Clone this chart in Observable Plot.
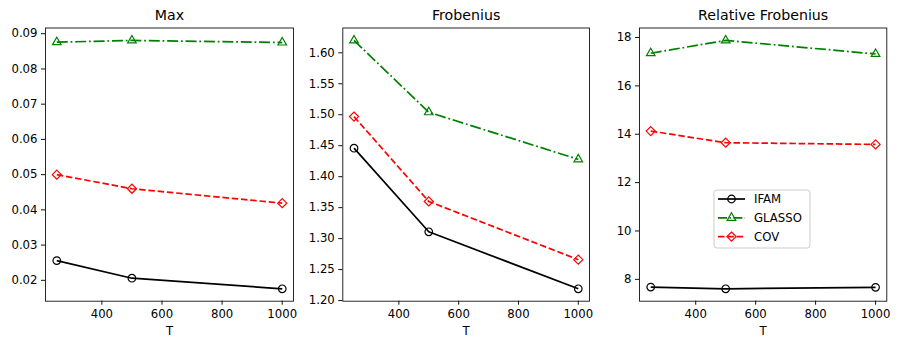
<!DOCTYPE html>
<html>
<head>
<meta charset="utf-8">
<script src="https://cdn.jsdelivr.net/npm/d3@7"></script>
<script src="https://cdn.jsdelivr.net/npm/@observablehq/plot@0.6"></script>
<style>
  body { margin: 0; background: white; font-family: "DejaVu Sans", sans-serif; }
  #wrap { position: relative; width: 900px; height: 348px; overflow: hidden; background: white; }
  #wrap > svg, #wrap > figure { position: absolute; top: 0; margin: 0; }
  #legend { position: absolute; }
</style>
</head>
<body>
<div id="wrap"></div>
<script>
// ---- data ----
const T = [250, 500, 1000];
const methods = ["IFAM", "GLASSO", "COV"];
const titles = ["Max", "Frobenius", "Relative Frobenius"];

const maxIFAM   = [0.0256, 0.0206, 0.0176];
const maxGLASSO = [0.0876, 0.0881, 0.0875];
const maxCOV    = [0.0500, 0.0460, 0.0419];

const frobIFAM   = [1.446, 1.311, 1.219];
const frobGLASSO = [1.620, 1.504, 1.428];
const frobCOV    = [1.497, 1.360, 1.266];

const relIFAM   = [7.68, 7.61, 7.67];
const relGLASSO = [17.35, 17.88, 17.32];
const relCOV    = [14.13, 13.65, 13.58];

const xTicks = [400, 600, 800, 1000];
const yTicksMax = [0.02, 0.03, 0.04, 0.05, 0.06, 0.07, 0.08, 0.09];
const yTicksFrob = [1.20, 1.25, 1.30, 1.35, 1.40, 1.45, 1.50, 1.55, 1.60];
const yTicksRel = [8, 10, 12, 14, 16, 18];

// ---- styles ----
const styles = {
  IFAM:   {color: "#000000", dash: null,             symbol: "circle",   r: 3.8},
  GLASSO: {color: "#008000", dash: "11,2.8,1.8,2.8", symbol: "triangle", r: 3.2},
  COV:    {color: "#ff0000", dash: "6.5,2.8",        symbol: "diamond2", r: 4.1}
};

function pad(ext, f = 0.05) {
  const d = ext[1] - ext[0];
  return [ext[0] - d * f, ext[1] + d * f];
}

function panel({title, series, yTicks, yFormat, left, width, marginLeft, marginRight}) {
  const rows = [];
  methods.forEach((m, i) => T.forEach((t, j) => rows.push({m, T: t, v: series[i][j]})));
  const yDomain = pad(d3.extent(rows, d => d.v));
  const xDomain = pad(d3.extent(T));
  const marks = [
    Plot.frame({stroke: "#111", strokeWidth: 0.9}),
    Plot.axisX({ticks: xTicks, tickFormat: d => String(d), tickSize: 4, tickPadding: 4, label: null, stroke: "#111"}),
    Plot.axisY({ticks: yTicks, tickFormat: yFormat, tickSize: 4, tickPadding: 4, label: null, stroke: "#111"})
  ];
  methods.forEach(m => {
    const s = styles[m];
    const data = rows.filter(d => d.m === m);
    marks.push(Plot.line(data, {x: "T", y: "v", stroke: s.color, strokeWidth: 1.7,
      strokeDasharray: s.dash || undefined, strokeLinecap: "butt"}));
    marks.push(Plot.dot(data, {x: "T", y: "v", symbol: () => s.symbol, r: s.r,
      stroke: s.color, fill: "none", strokeWidth: 1.2}));
  });
  marks.push(Plot.text([title], {frameAnchor: "top", dy: -12.5, lineAnchor: "middle", fontSize: 14.2, fill: "black"}));
  marks.push(Plot.text(["T"], {frameAnchor: "bottom", dy: 30.5, lineAnchor: "middle", fontSize: 11.7, fill: "black"}));
  const svg = Plot.plot({
    width, height: 348,
    marginLeft, marginRight, marginTop: 27.5, marginBottom: 47.3,
    style: {fontFamily: "DejaVu Sans", fontSize: "11.7px", color: "black", background: "transparent", overflow: "visible"},
    x: {domain: xDomain},
    y: {domain: yDomain},
    symbol: {type: "identity"},
    marks
  });
  svg.style.left = left + "px";
  return svg;
}

const wrap = document.getElementById("wrap");
wrap.appendChild(panel({title: titles[0], series: [maxIFAM, maxGLASSO, maxCOV], yTicks: yTicksMax,
  yFormat: d3.format(".2f"), left: 0, width: 300, marginLeft: 45, marginRight: 7}));
wrap.appendChild(panel({title: titles[1], series: [frobIFAM, frobGLASSO, frobCOV], yTicks: yTicksFrob,
  yFormat: d3.format(".2f"), left: 297, width: 300, marginLeft: 45.3, marginRight: 8}));
wrap.appendChild(panel({title: titles[2], series: [relIFAM, relGLASSO, relCOV], yTicks: yTicksRel,
  yFormat: d3.format("d"), left: 597, width: 303, marginLeft: 42, marginRight: 13.7}));

// ---- legend ----
const lg = d3.select(wrap).append("svg").attr("id", "legend")
  .attr("width", 100).attr("height", 62)
  .style("left", "712px").style("top", "188px");
lg.append("rect").attr("x", 2).attr("y", 2).attr("width", 96).attr("height", 58)
  .attr("rx", 3).attr("fill", "rgba(255,255,255,0.8)").attr("stroke", "#cccccc").attr("stroke-width", 1);
methods.forEach((m, i) => {
  const s = styles[m];
  const cy = 11 + i * 18.8;
  lg.append("line").attr("x1", 6).attr("x2", 33).attr("y1", cy).attr("y2", cy)
    .attr("stroke", s.color).attr("stroke-width", 1.7).attr("stroke-dasharray", s.dash ? (m === "COV" ? "6.5,2.8" : "9,2.4,1.5,2.4") : null);
  const sym = {circle: d3.symbolCircle, triangle: d3.symbolTriangle, diamond2: d3.symbolDiamond2}[s.symbol];
  lg.append("path").attr("d", d3.symbol(sym, s.r * s.r * Math.PI)())
    .attr("transform", `translate(19.5,${cy})`).attr("fill", "none").attr("stroke", s.color).attr("stroke-width", 1.2);
  lg.append("text").attr("x", 42).attr("y", cy).attr("dy", "0.35em")
    .attr("font-family", "DejaVu Sans").attr("font-size", "11.7px").attr("fill", "black").text(m);
});
</script>
</body>
</html>
